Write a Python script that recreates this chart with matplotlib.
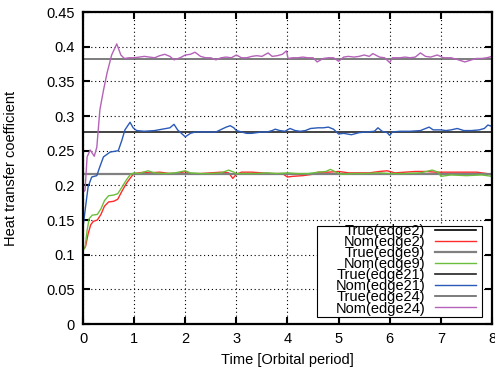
import numpy as np
import matplotlib
matplotlib.use('Agg')
import matplotlib.pyplot as plt
from matplotlib.patches import Rectangle

plt.rcParams['font.family'] = ['Liberation Sans', 'DejaVu Sans']

# true values
true_edge2 = 0.216
true_edge9 = 0.216
true_edge21 = 0.277
true_edge24 = 0.382

# nominal estimates (time in orbital periods)
t_e2 = [0, 0.05, 0.1, 0.15, 0.2, 0.28, 0.35, 0.42, 0.5, 0.6, 0.68, 0.75, 0.85, 0.95, 1.0,
        1.1, 1.2, 1.3, 1.5, 1.7, 1.9, 2.0, 2.1, 2.3, 2.5, 2.7, 2.85, 2.93, 3.0, 3.1, 3.3,
        3.5, 3.7, 3.9, 4.0, 4.1, 4.3, 4.5, 4.6, 4.8, 5.0, 5.2, 5.4, 5.6, 5.8, 5.95, 6.1,
        6.3, 6.5, 6.7, 6.9, 7.1, 7.3, 7.5, 7.7, 7.9, 8.0]
nom_e2 = [0.107, 0.112, 0.130, 0.143, 0.148, 0.150, 0.158, 0.170, 0.176, 0.177, 0.180, 0.190,
          0.203, 0.213, 0.217, 0.218, 0.219, 0.218, 0.219, 0.217, 0.218, 0.220, 0.217, 0.217,
          0.218, 0.219, 0.218, 0.210, 0.216, 0.219, 0.219, 0.218, 0.217, 0.217, 0.212, 0.213,
          0.214, 0.216, 0.219, 0.219, 0.220, 0.218, 0.218, 0.218, 0.220, 0.221, 0.218, 0.219,
          0.220, 0.220, 0.219, 0.219, 0.219, 0.219, 0.219, 0.217, 0.215]

t_e9 = [0, 0.04, 0.08, 0.12, 0.18, 0.28, 0.35, 0.42, 0.5, 0.6, 0.68, 0.75, 0.85, 0.93, 1.0,
        1.1, 1.27, 1.4, 1.6, 1.8, 2.0, 2.1, 2.3, 2.5, 2.7, 2.85, 2.95, 3.0, 3.2, 3.4, 3.6,
        3.8, 4.0, 4.2, 4.4, 4.6, 4.75, 4.84, 4.95, 5.05, 5.3, 5.5, 5.8, 6.0, 6.3, 6.6, 6.83,
        6.95, 7.0, 7.2, 7.5, 7.8, 8.0]
nom_e9 = [0.107, 0.110, 0.135, 0.152, 0.157, 0.158, 0.166, 0.178, 0.185, 0.186, 0.188, 0.196,
          0.208, 0.216, 0.218, 0.217, 0.221, 0.218, 0.217, 0.218, 0.221, 0.218, 0.217, 0.217,
          0.218, 0.222, 0.219, 0.217, 0.217, 0.217, 0.218, 0.217, 0.218, 0.217, 0.217, 0.219,
          0.220, 0.223, 0.219, 0.216, 0.217, 0.217, 0.218, 0.217, 0.217, 0.218, 0.222, 0.219,
          0.213, 0.215, 0.214, 0.215, 0.213]

t_e21 = [0, 0.06, 0.1, 0.17, 0.27, 0.33, 0.4, 0.53, 0.69, 0.76, 0.82, 0.92, 0.98, 1.05,
         1.2, 1.4, 1.55, 1.7, 1.78, 1.85, 2.0, 2.1, 2.2, 2.4, 2.6, 2.8, 2.88, 2.95, 3.0,
         3.1, 3.2, 3.3, 3.4, 3.5, 3.6, 3.7, 3.76, 3.85, 3.95, 4.05, 4.15, 4.25, 4.35, 4.45,
         4.6, 4.7, 4.8, 4.9, 5.0, 5.1, 5.25, 5.4, 5.55, 5.7, 5.77, 5.85, 5.95, 6.0, 6.05,
         6.2, 6.4, 6.6, 6.77, 6.85, 7.0, 7.1, 7.2, 7.32, 7.45, 7.6, 7.75, 7.85, 7.92, 8.0]
nom_e21 = [0.140, 0.175, 0.198, 0.212, 0.214, 0.227, 0.241, 0.248, 0.250, 0.265, 0.280,
           0.291, 0.283, 0.279, 0.278, 0.279, 0.281, 0.283, 0.288, 0.280, 0.270, 0.275,
           0.277, 0.277, 0.277, 0.284, 0.286, 0.283, 0.279, 0.277, 0.275, 0.275, 0.276,
           0.277, 0.277, 0.279, 0.281, 0.279, 0.278, 0.282, 0.279, 0.278, 0.279, 0.282,
           0.283, 0.283, 0.284, 0.281, 0.274, 0.275, 0.273, 0.276, 0.277, 0.278, 0.283,
           0.278, 0.276, 0.272, 0.277, 0.278, 0.278, 0.279, 0.284, 0.280, 0.280, 0.279,
           0.280, 0.282, 0.279, 0.279, 0.280, 0.282, 0.287, 0.285]

t_e24 = [0, 0.04, 0.08, 0.14, 0.22, 0.27, 0.33, 0.4, 0.47, 0.56, 0.66, 0.74, 0.81, 0.9,
         1.0, 1.1, 1.2, 1.3, 1.4, 1.5, 1.6, 1.7, 1.78, 1.9, 2.0, 2.1, 2.19, 2.3, 2.4, 2.5,
         2.6, 2.7, 2.8, 2.9, 3.0, 3.1, 3.2, 3.3, 3.4, 3.5, 3.62, 3.7, 3.8, 3.9, 3.98, 4.01,
         4.1, 4.2, 4.3, 4.4, 4.5, 4.58, 4.7, 4.8, 4.9, 5.0, 5.1, 5.19, 5.3, 5.4, 5.5, 5.6,
         5.67, 5.8, 5.9, 6.0, 6.05, 6.2, 6.3, 6.4, 6.5, 6.6, 6.7, 6.8, 6.93, 7.05, 7.2, 7.3,
         7.47, 7.6, 7.7, 7.8, 7.9, 8.0]
nom_e24 = [0.190, 0.193, 0.241, 0.251, 0.242, 0.255, 0.309, 0.337, 0.362, 0.388, 0.404,
           0.388, 0.383, 0.384, 0.384, 0.385, 0.386, 0.385, 0.384, 0.387, 0.389, 0.386,
           0.381, 0.384, 0.388, 0.389, 0.392, 0.386, 0.384, 0.384, 0.381, 0.384, 0.385,
           0.384, 0.388, 0.384, 0.384, 0.386, 0.387, 0.386, 0.391, 0.386, 0.387, 0.389,
           0.394, 0.383, 0.384, 0.384, 0.385, 0.384, 0.384, 0.378, 0.383, 0.384, 0.384,
           0.379, 0.385, 0.386, 0.385, 0.386, 0.388, 0.386, 0.390, 0.385, 0.384, 0.377,
           0.384, 0.384, 0.385, 0.384, 0.385, 0.391, 0.386, 0.385, 0.388, 0.384, 0.384,
           0.382, 0.378, 0.381, 0.383, 0.383, 0.384, 0.386]

xticks = list(range(0, 9))
yticks = [0, 0.05, 0.1, 0.15, 0.2, 0.25, 0.3, 0.35, 0.4, 0.45]
ytick_labels = ['0', '0.05', '0.1', '0.15', '0.2', '0.25', '0.3', '0.35', '0.4', '0.45']


def main():
    fig = plt.figure(figsize=(4.95, 3.72), dpi=100)
    ax = fig.add_axes([0.1677, 0.129, 0.8262, 0.8387])

    fs = 10.5
    ax.axhline(true_edge2, color='black', lw=1.2, label='True(edge2)')
    ax.plot(t_e2, nom_e2, color='#ff2a2a', lw=1.0, label='Nom(edge2)')
    ax.axhline(true_edge9, color='#808080', lw=1.6, label='True(edge9)')
    ax.plot(t_e9, nom_e9, color='#6cbf3c', lw=1.0, label='Nom(edge9)')
    ax.axhline(true_edge21, color='#222222', lw=1.2, label='True(edge21)')
    ax.plot(t_e21, nom_e21, color='#2a5ab8', lw=1.0, label='Nom(edge21)')
    ax.axhline(true_edge24, color='#666666', lw=1.2, label='True(edge24)')
    ax.plot(t_e24, nom_e24, color='#b463b8', lw=1.0, label='Nom(edge24)')

    ax.set_xlim(0, 8)
    ax.set_ylim(0, 0.45)
    ax.set_xticks(xticks)
    ax.set_yticks(yticks)
    ax.set_yticklabels(ytick_labels)
    ax.grid(True, color='black', linestyle=(0, (1, 2.5)), linewidth=0.8)
    ax.tick_params(direction='in', length=5, width=1.5, top=True, right=True,
                   labelsize=fs, pad=6, colors='black')
    for s in ax.spines.values():
        s.set_linewidth(1.6)
    ax.set_xlabel('Time [Orbital period]', fontsize=fs, labelpad=5)
    ax.set_ylabel('Heat transfer coefficient', fontsize=fs, labelpad=20)

    # gnuplot-style key box: wider than the text, drawn as its own patch
    ax.add_patch(Rectangle((0.572, 0.0224), 0.403, 0.292, transform=ax.transAxes,
                           facecolor='white', edgecolor='black', lw=0.8, zorder=4))
    leg = ax.legend(loc='lower right', bbox_to_anchor=(0.965, 0.0224), borderaxespad=0,
                    fontsize=fs, markerfirst=False, labelspacing=-0.2, handlelength=2.8,
                    handletextpad=0.7, borderpad=0.1, frameon=False)
    leg.set_zorder(5)

    fig.savefig('out.png', dpi=100)


if __name__ == "__main__":
    main()
